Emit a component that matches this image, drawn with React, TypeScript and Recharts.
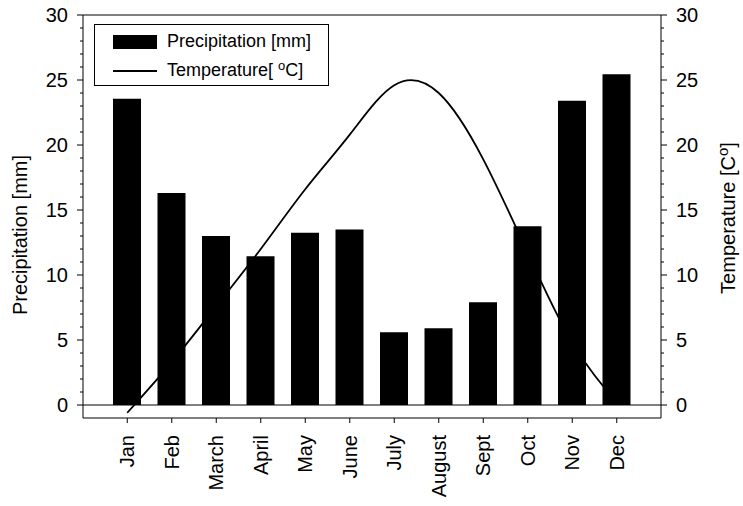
import {
  Bar,
  ComposedChart,
  Line,
  ReferenceLine,
  XAxis,
  YAxis,
} from "recharts";

const MONTHS = ["Jan", "Feb", "March", "April", "May", "June", "July", "August", "Sept", "Oct", "Nov", "Dec"];
const PRECIP = [23.55, 16.3, 13.0, 11.45, 13.25, 13.5, 5.6, 5.9, 7.9, 13.75, 23.4, 25.45];
const TEMP = [-0.6, 3.3, 7.6, 12.0, 16.6, 20.8, 24.6, 24.0, 18.9, 11.7, 4.8, 0.2];
const MINOR_TICKS = Array.from({ length: 31 }, (_, i) => i); // 0..30, every unit
const MAJOR_STEP = 5;

const FONT = "'Liberation Sans', Arial, Helvetica, sans-serif";
const INK = "#000";

const data = MONTHS.map((m, i) => ({ month: m, precip: PRECIP[i], temp: TEMP[i] }));

// draws both major (labelled) and minor ticks; side = -1 for left axis, 1 for right
function makeTick(side: number) {
  return (props: any) => {
    const { x, y, payload } = props;
    const v = payload.value as number;
    const major = v % MAJOR_STEP === 0;
    const len = major ? 6 : 3;
    return (
      <g>
        <line x1={x} x2={x + side * len} y1={y} y2={y} stroke={INK} strokeWidth={1} />
        {major && (
          <text
            x={x + side * 15}
            y={y}
            dy="0.36em"
            textAnchor={side < 0 ? "end" : "start"}
            fontSize={20}
            fontFamily={FONT}
            fill={INK}
          >
            {v}
          </text>
        )}
      </g>
    );
  };
}

function MonthTick(props: any) {
  const { x, y, payload } = props;
  return (
    <text
      x={0}
      y={0}
      transform={`translate(${x},${y + 10}) rotate(-90)`}
      dy="0.36em"
      textAnchor="end"
      fontSize={20}
      fontFamily={FONT}
      fill={INK}
    >
      {payload.value}
    </text>
  );
}

export default function App() {
  return (
    <div style={{ position: "absolute", left: 0, top: 0, width: 743, height: 506, background: "#fff" }}>
      <ComposedChart
        width={743}
        height={506}
        data={data}
        margin={{ top: 15, right: 0, bottom: 0, left: 0 }}
      >
        <XAxis
          dataKey="month"
          height={88}
          padding={{ left: 22, right: 22 }}
          stroke={INK}
          tickSize={5}
          tick={<MonthTick />}
          interval={0}
        />
        <YAxis
          yAxisId="left"
          width={83}
          domain={[-1, 30]}
          ticks={MINOR_TICKS}
          interval={0}
          stroke={INK}
          tickLine={false}
          tickSize={0}
          tickMargin={0}
          tick={makeTick(-1)}
          allowDataOverflow
          label={{
            content: () => (
              <text
                transform="translate(27,235) rotate(-90)"
                textAnchor="middle"
                fontSize={20}
                fontFamily={FONT}
                fill={INK}
              >
                Precipitation [mm]
              </text>
            ),
          }}
        />
        <YAxis
          yAxisId="right"
          orientation="right"
          width={82}
          domain={[-1, 30]}
          ticks={MINOR_TICKS}
          interval={0}
          stroke={INK}
          tickLine={false}
          tickSize={0}
          tickMargin={0}
          tick={makeTick(1)}
          allowDataOverflow
          label={{
            content: () => (
              <text
                transform="translate(735,218) rotate(-90)"
                textAnchor="middle"
                fontSize={20}
                fontFamily={FONT}
                fill={INK}
              >
                Temperature [C
                <tspan dy={-7} fontSize={15}>o</tspan>
                <tspan dy={7}>]</tspan>
              </text>
            ),
          }}
        />
        <ReferenceLine yAxisId="left" y={30} stroke={INK} strokeWidth={1} />
        <ReferenceLine yAxisId="left" y={0} stroke={INK} strokeWidth={1} />
        <Line
          yAxisId="right"
          dataKey="temp"
          type="natural"
          stroke={INK}
          strokeWidth={1.8}
          dot={false}
          isAnimationActive={false}
        />
        <Bar
          yAxisId="left"
          dataKey="precip"
          fill={INK}
          barSize={28}
          isAnimationActive={false}
        />
      </ComposedChart>

      <div
        style={{
          position: "absolute",
          left: 94,
          top: 24,
          width: 235,
          height: 62,
          boxSizing: "border-box",
          border: `1px solid ${INK}`,
          background: "#fff",
          fontFamily: FONT,
          fontSize: 18,
          color: INK,
        }}
      >
        <div style={{ position: "absolute", left: 18, top: 10, width: 44, height: 14, background: INK }} />
        <div style={{ position: "absolute", left: 72, top: 5, lineHeight: "22px", whiteSpace: "nowrap" }}>
          Precipitation [mm]
        </div>
        <div style={{ position: "absolute", left: 18, top: 45, width: 44, height: 2, background: INK }} />
        <div style={{ position: "absolute", left: 72, top: 34, lineHeight: "22px", whiteSpace: "nowrap" }}>
          Temperature[ <sup style={{ fontSize: 13, verticalAlign: "6px", lineHeight: 0 }}>o</sup>C]
        </div>
      </div>
    </div>
  );
}
